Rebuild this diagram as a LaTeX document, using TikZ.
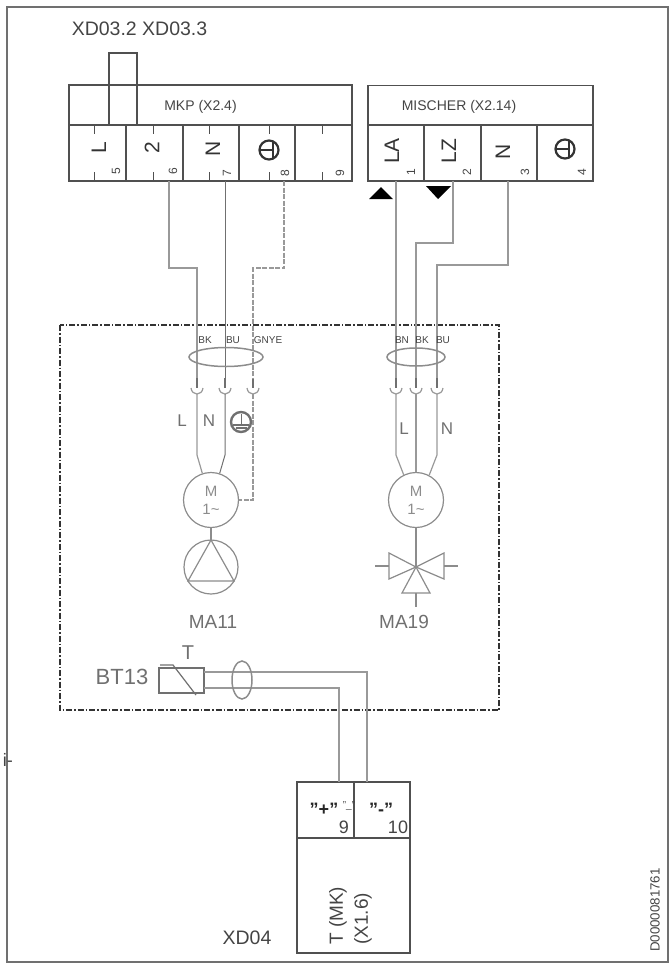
\documentclass[tikz,border=0pt]{standalone}
\usepackage{fontspec}
\setmainfont{Liberation Sans}
\definecolor{framegray}{HTML}{707070}
\definecolor{boxgray}{HTML}{505050}
\definecolor{wiregray}{HTML}{999999}
\definecolor{textgray}{HTML}{444444}
\definecolor{symgray}{HTML}{8C8C8C}
\newcommand{\fsz}[1]{\fontsize{#1}{#1}\selectfont}
\tikzset{
  wire/.style = {color = wiregray, line width = 1.2pt},
  darkwire/.style = {color = framegray, line width = 1pt},
  boxline/.style = {draw = boxgray, line width = 1.1pt},
  headbox/.style = {boxline, minimum height = 40pt, inner sep = 0pt, text = textgray},
  tick/.style = {color = boxgray, line width = .9pt},
  motor/.style = {circle, draw = symgray, line width = 1.2pt, minimum size = 55pt, inner sep = 0pt,
    align = center, text = symgray, font = \fsz{15}},
  sym/.style = {color = symgray, line width = 1.2pt},
  celltext/.style = {rotate = 90, inner sep = 0pt, text = black!80, font = \fsz{21}},
  numtext/.style = {rotate = 90, inner sep = 0pt, text = textgray, font = \fsz{12}},
  wiretext/.style = {inner sep = 0pt, text = textgray, font = \fsz{10}},
  graytext/.style = {inner sep = 0pt, text = framegray, font = \fsz{19}},
  earthsym/.pic = {
    \draw[line width = 2.2pt] (0,0) circle (9.5);
    \draw[line width = 1.4pt] (-9,0) -- (4,0);
    \draw[line width = 2.4pt] (4,-8) -- (4,8);
  },
  earthlow/.pic = {
    \draw[line width = 2.4pt] (0,0) circle (10);
    \draw[line width = 1pt] (0,-8) -- (0,3);
    \draw[line width = 1.2pt] (-8,3) -- (8,3);
    \draw[line width = 1.6pt] (-5.5,6) -- (5.5,6);
  }
}
\begin{document}
\begin{tikzpicture}[x = 1pt, y = -1pt]
        \useasboundingbox (0,0) rectangle (671,967);
        % outer frame
        \draw[color = framegray, line width = 1.5pt] (7,7) rectangle (668,962);
        \node[inner sep = 0pt, anchor = east, text = textgray, font = \fsz{18}] (cutoff) at (13,760) {i-};
        \node[inner sep = 0pt, text = textgray, font = \fsz{19.5}] (xd03) at (139.5,29) {XD03.2 XD03.3};
        % terminal MKP
        \node[headbox, minimum width = 283pt] (mkp) at (210.5,105) {};
        \node[inner sep = 0pt, text = textgray, font = \fsz{14}] (mkplabel) at (200.5,107) {MKP (X2.4)};
        \foreach \n/\a/\b in {5/69/126,6/126/183,7/183/239,8/239/295,9/295/352}
          \draw[boxline] (\a,125) rectangle (\b,181);
        \foreach \x in {94,153,209,269,322} {
          \draw[tick] (\x,125) -- (\x,134);
          \draw[tick] (\x,172) -- (\x,181);
        }
        \draw[boxline] (109,125) -- (109,53) -- (137,53) -- (137,125);
        \node[celltext] (tL) at (99,148) {L};
        \node[celltext] (t2) at (152,148) {2};
        \node[celltext] (tN) at (213,149) {N};
        \pic[color = black!80] at (269,150) {earthsym};
        \node[numtext] (n5) at (116,171) {5};
        \node[numtext] (n6) at (173,171) {6};
        \node[numtext] (n7) at (227,173) {7};
        \node[numtext] (n8) at (285,173) {8};
        \node[numtext] (n9) at (340,173) {9};
        % terminal MISCHER
        \node[headbox, minimum width = 225pt] (mischer) at (480.5,105.5) {};
        \node[inner sep = 0pt, text = textgray, font = \fsz{14}] (mischerlabel) at (459,107) {MISCHER (X2.14)};
        \foreach \n/\a/\b in {1/368/424,2/424/481,3/481/537,4/537/593}
          \draw[boxline] (\a,125) rectangle (\b,181);
        \node[celltext] (tLA) at (392,151) {LA};
        \node[celltext] (tLZ) at (449,151) {LZ};
        \node[celltext] (tN2) at (503,152) {N};
        \pic[color = black!80] at (565,149) {earthsym};
        \node[numtext] (m1) at (411,172) {1};
        \node[numtext] (m2) at (467,172) {2};
        \node[numtext] (m3) at (525,172) {3};
        \node[numtext] (m4) at (582,172) {4};
        \fill[color = black] (369,199) -- (393,199) -- (381,187) -- cycle;
        \fill[color = black] (426,186) -- (451,186) -- (438,199) -- cycle;
        % device frame
        \draw[color = black!80, line width = 1.2pt, dash pattern = on 6pt off 2pt on 1.5pt off 2pt] (60,325) rectangle (499,710);
        % motors
        \node[motor] (ma11m) at (211,500) {M\\[3pt]1\textasciitilde};
        \node[motor] (ma19m) at (416,500) {M\\[3pt]1\textasciitilde};
        % plugs
        \foreach \n/\x in {a/197,b/225,c/253,d/396,e/416,f/437} {
          \coordinate (p\n) at (\x,378);
          \coordinate (q\n) at (\x,394);
          \draw[color = framegray, line width = 2pt] (\x,378) -- (\x,388);
          \draw[wire] (\x-6,388) .. controls (\x-5,396) and (\x+5,396) .. (\x+6,388);
        }
        % wires
        \coordinate (w6) at (169,181);
        \coordinate (w7) at (225,181);
        \coordinate (w8) at (284,181);
        \coordinate (w1) at (396,181);
        \coordinate (w2) at (453,181);
        \coordinate (w3) at (508,181);
        \draw[wire] (w6) -- (169,268) -- (197,268) -- (pa);
        \draw[darkwire] (w7) -- (pb);
        \draw[wire, dash pattern = on 5pt off 1.5pt] (w8) -- (284,268) -- (253,268) -- (pc);
        \draw[wire] (w1) -- (pd);
        \draw[wire] (w2) -- (453,243) -- (416,243) -- (pe);
        \draw[wire] (w3) -- (508,265) -- (437,265) -- (pf);
        \draw[wire] (qa) -- (197,455) -- (ma11m.108);
        \draw[darkwire] (qb) -- (225,455) -- (ma11m.72);
        \draw[wire, dash pattern = on 5pt off 1.5pt] (qc) |- (ma11m.east);
        \draw[wire] (qd) -- (396,455) -- (ma19m.116);
        \draw[wire] (qe) -- (ma19m.north);
        \draw[wire] (qf) -- (437,455) -- (ma19m.62);
        \draw[color = symgray, line width = 1.5pt] (226,357) ellipse (37 and 9.5);
        \draw[color = symgray, line width = 1.5pt] (416,357) ellipse (29 and 9);
        \node[wiretext] (lbk) at (205,340) {BK};
        \node[wiretext] (lbu) at (233,340) {BU};
        \node[wiretext] (lgnye) at (268,340) {GNYE};
        \node[wiretext] (lbn) at (402,340) {BN};
        \node[wiretext] (lbk2) at (422,340) {BK};
        \node[wiretext] (lbu2) at (443,340) {BU};
        \node[graytext, font = \fsz{17}] (lL) at (182,421) {L};
        \node[graytext, font = \fsz{17}] (lN) at (209,421) {N};
        \node[graytext, font = \fsz{17}] (lL2) at (404,429) {L};
        \node[graytext, font = \fsz{17}] (lN2) at (447,429) {N};
        \pic[color = framegray] at (241,422) {earthlow};
        % pump
        \draw[sym] (ma11m.south) -- (211,540);
        \draw[sym] (211,567) circle (27);
        \draw[sym] (211,540) -- (234,581) -- (188,581) -- cycle;
        \node[graytext] (ma11) at (213,622) {MA11};
        % valve
        \draw[sym] (ma19m.south) -- (416,567);
        \draw[sym] (416,567) -- (389,553) -- (389,579) -- cycle;
        \draw[sym] (416,567) -- (444,553) -- (444,579) -- cycle;
        \draw[sym] (416,567) -- (430,593) -- (402,593) -- cycle;
        \draw[sym] (375,566) -- (389,566);
        \draw[sym] (444,566) -- (458,566);
        \draw[sym] (416,593) -- (416,607);
        \node[graytext] (ma19) at (404,622) {MA19};
        % sensor
        \node[graytext, font = \fsz{22}] (bt13) at (122,677) {BT13};
        \node[graytext, font = \fsz{20}] (tlabel) at (188,653) {T};
        \draw[color = framegray, line width = 1.2pt] (159,668) rectangle (204,693);
        \draw[color = framegray, line width = 1.2pt] (160,665) -- (173,665) -- (196,695);
        \coordinate (s1) at (204,672);
        \coordinate (s2) at (204,688);
        % terminal XD04
        \node[boxline, minimum width = 113pt, minimum height = 171pt, inner sep = 0pt] (xd04box) at (353.5,867.5) {};
        \draw[boxline] (297,838) -- (410,838);
        \draw[boxline] (354,782) -- (354,838);
        \coordinate (x9) at (339,782);
        \coordinate (x10) at (367,782);
        \draw[wire] (s1) -- (367,672) -- (x10);
        \draw[wire] (s2) -- (339,688) -- (x9);
        \draw[color = symgray, line width = 1.5pt] (242,680) ellipse (10 and 19);
        \node[inner sep = 0pt, text = black!85, font = \fsz{18}\bfseries] (plus) at (324,809) {"+"};
        \node[inner sep = 0pt, text = textgray, font = \fsz{10}] (plusb) at (349,806) {"\_"};
        \node[inner sep = 0pt, text = black!85, font = \fsz{18}\bfseries] (minus) at (381,809) {"-"};
        \node[inner sep = 0pt, text = textgray, font = \fsz{18}] (n9b) at (344,827) {9};
        \node[inner sep = 0pt, text = textgray, font = \fsz{18}] (n10b) at (398,827) {10};
        \node[inner sep = 0pt, rotate = 90, anchor = west, text = textgray, font = \fsz{19}] (tmk) at (338,945) {T (MK)};
        \node[inner sep = 0pt, rotate = 90, anchor = west, text = textgray, font = \fsz{19}] (x16) at (363,945) {(X1.6)};
        \node[inner sep = 0pt, text = textgray, font = \fsz{19.5}] (xd04) at (247,938) {XD04};
        \node[inner sep = 0pt, rotate = 90, text = textgray, font = \fsz{13.3}] (docnum) at (655,910) {D0000081761};
\end{tikzpicture}
\end{document}
